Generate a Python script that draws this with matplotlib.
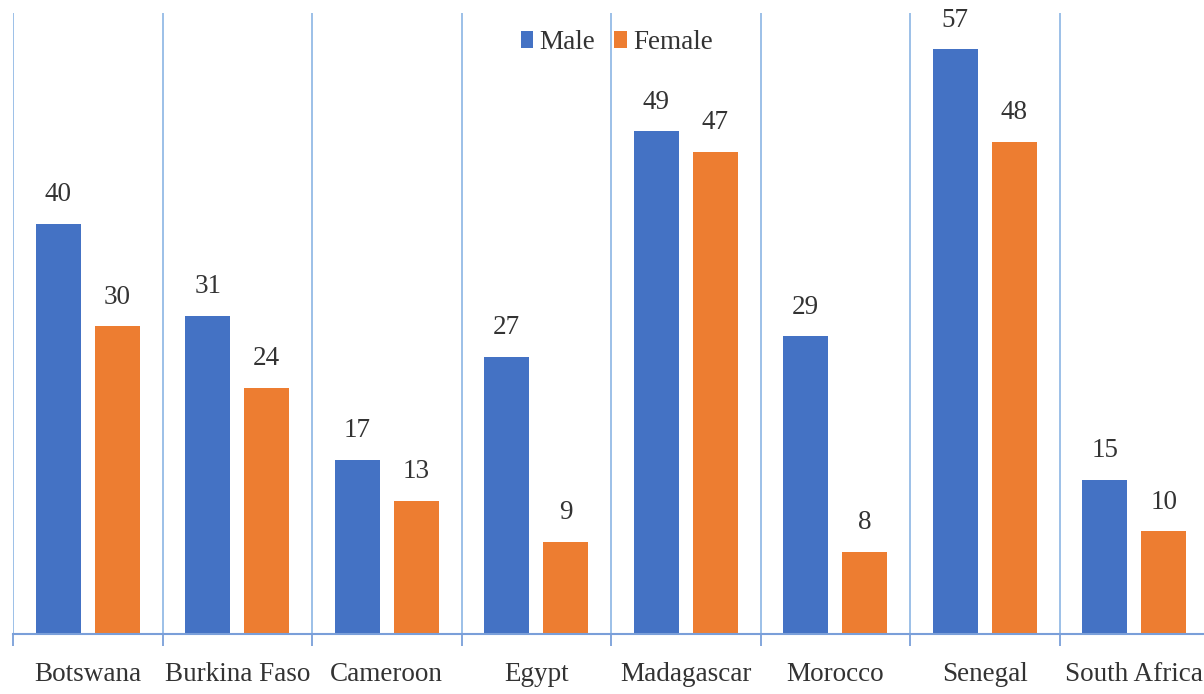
import numpy as np
from matplotlib import pyplot as plt

countries = ["Botswana", "Burkina Faso", "Cameroon", "Egypt",
             "Madagascar", "Morocco", "Senegal", "South Africa"]
male = [40, 31, 17, 27, 49, 29, 57, 15]
female = [30, 24, 13, 9, 47, 8, 48, 10]

blue = "#4472c4"
orange = "#ed7d31"
sep_col = "#9cc0e8"
base_col = "#7a9fd9"
text_col = "#333333"
fs = 19.5

plt.rcParams["font.family"] = ["Liberation Serif", "DejaVu Serif"]

fig = plt.figure(figsize=(12.04, 6.94), dpi=100)
W, H = 1204, 694
ax = fig.add_axes([13 / W, (H - 634) / H, (1204 - 13) / W, (634 - 13) / H])

x = np.arange(len(countries))
bw = 0.30
gap = 0.094
b1 = ax.bar(x - (bw + gap) / 2, male, bw, color=blue, label="Male")
b2 = ax.bar(x + (bw + gap) / 2, female, bw, color=orange, label="Female")

for bars, vals in ((b1, male), (b2, female)):
    for bar, v in zip(bars, vals):
        ax.annotate(str(v), (bar.get_x() + bar.get_width() / 2, v),
                    xytext=(0, 12), textcoords="offset points",
                    ha="center", va="bottom", fontsize=fs, color=text_col)

# category separators
bounds = np.arange(-0.5, len(countries), 1)
for b in bounds:
    ax.axvline(b, color=sep_col, lw=1.4, zorder=0)

for s in ["top", "right", "left"]:
    ax.spines[s].set_visible(False)
ax.spines["bottom"].set_color(base_col)
ax.spines["bottom"].set_linewidth(1.5)
ax.set_yticks([])

ax.set_xticks(x)
ax.set_xticklabels(countries, fontsize=fs, color=text_col)
ax.tick_params(axis="x", which="major", length=0, pad=20)
ax.set_xticks(bounds, minor=True)
ax.tick_params(axis="x", which="minor", length=8.5, color=base_col, width=1.3)

# limits last so the ticks don't widen them
ax.set_xlim(-0.5, -0.5 + 1191 / 149.5)
ax.set_ylim(0, (634 - 13) / 10.26)

ax.legend(loc="center", bbox_to_anchor=(0.507, 0.953), ncol=2, frameon=False,
          fontsize=fs, handlelength=0.45, handleheight=0.6, handletextpad=0.25,
          columnspacing=0.7, labelcolor=text_col)

fig.savefig("out.png", dpi=100)
